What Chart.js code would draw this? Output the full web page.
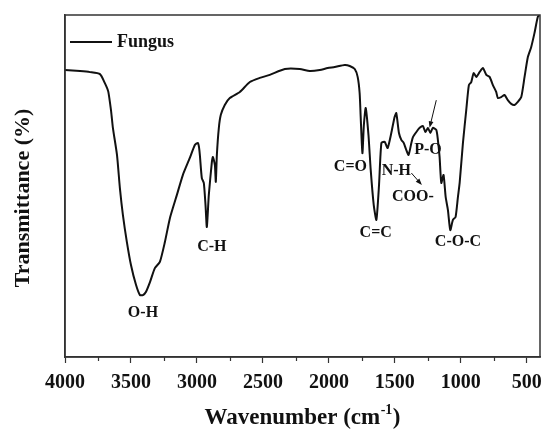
<!DOCTYPE html>
<html><head><meta charset="utf-8">
<script src="https://cdn.jsdelivr.net/npm/chart.js@4/dist/chart.umd.min.js"></script>
<style>html,body{margin:0;padding:0;background:#fff}</style>
</head><body>
<canvas id="c" width="543" height="430" style="display:block;width:543px;height:430px"></canvas>
<script>
const seriesName = 'Fungus';
const wavenumbers = [4000,3886,3810,3735,3697,3672,3650,3637,3606,3584,3561,3531,3500,3462,3432,3409,3387,3356,3319,3281,3243,3205,3152,3107,3054,3016,2993,2985,2978,2963,2948,2935,2925,2910,2887,2879,2864,2857,2849,2834,2819,2789,2751,2675,2599,2524,2448,2334,2221,2145,2069,2009,1956,1880,1842,1804,1782,1767,1759,1746,1735,1721,1700,1683,1660,1640,1620,1602,1577,1555,1527,1502,1489,1469,1451,1433,1413,1396,1375,1363,1337,1312,1287,1269,1249,1231,1212,1186,1174,1161,1148,1131,1115,1098,1080,1060,1040,1022,1009,984,959,939,921,903,883,858,833,807,782,757,732,719,694,669,644,618,593,568,542,517,492,467,442,417,404];
const transmittance = [83.9,83.6,83.3,82.7,80.0,77.6,71.7,67.0,59.1,49.4,41.5,33.6,26.9,21.1,18.1,18.1,19.0,21.9,26.0,27.8,33.6,40.6,47.4,53.2,58.2,62.0,62.6,61.5,59.1,52.3,50.9,44.4,38.0,47.4,57.0,58.5,56.1,51.2,59.1,67.0,70.8,73.7,75.7,77.5,80.4,81.6,82.5,84.2,84.2,83.6,83.9,84.5,84.8,85.4,85.1,84.2,81.9,77.2,70.2,59.6,67.8,72.8,64.9,54.7,44.4,40.1,50.3,62.6,62.9,61.1,65.5,70.2,71.3,65.5,63.5,62.6,60.5,59.1,62.6,64.3,65.8,67.0,67.5,65.8,67.0,65.5,67.0,66.4,63.5,58.5,50.9,53.2,46.8,43.0,37.1,40.1,40.9,46.8,50.9,62.6,72.2,79.5,80.4,83.0,81.9,83.3,84.5,82.5,81.9,79.5,77.5,75.7,76.0,76.6,75.1,74.0,73.7,74.6,76.0,81.9,87.7,90.6,94.7,99.4,100];
const xTickLabels = [4000,3500,3000,2500,2000,1500,1000,500];
const xMinorTicks = [3750,3250,2750,2250,1750,1250,750];
const xTitle = 'Wavenumber (cm';
const xTitleSup = '-1';
const yTitle = 'Transmittance (%)';
const bandNames = ['O-H','C-H','C=O','N-H','P-O','COO-','C=C','C-O-C'];
const bandWavenumber = [3409,2887,1837,1489,1249,1363,1645,1022];
const bandLevel = [12.9,32.3,55.6,54.5,60.5,46.9,36.2,33.7];
// arrows: [fromX, fromY, toX, toY] in data units
const arrows = [[1186,75.1,1237,67.0],[1375,53.8,1295,50.3]];

const SERIF = "'Liberation Serif','Times New Roman',serif";
const INK = '#111';
const FRAME = '#333';

const deco = {
  id: 'deco',
  afterDraw(chart) {
    const {ctx, chartArea: a, scales: {x, y}} = chart;
    ctx.save();
    // frame
    ctx.strokeStyle = FRAME; ctx.lineWidth = 1.5;
    ctx.strokeRect(a.left, a.top, a.right - a.left, a.bottom - a.top);
    // minor ticks
    ctx.lineWidth = 1.2;
    xMinorTicks.forEach(v => {
      const px = Math.round(x.getPixelForValue(v)) + 0.5;
      ctx.beginPath(); ctx.moveTo(px, a.bottom); ctx.lineTo(px, a.bottom + 4); ctx.stroke();
    });
    // legend
    ctx.strokeStyle = INK; ctx.lineWidth = 2;
    ctx.beginPath(); ctx.moveTo(a.left + 5, 42); ctx.lineTo(a.left + 47, 42); ctx.stroke();
    ctx.fillStyle = INK;
    ctx.font = 'bold 18px ' + SERIF;
    ctx.textAlign = 'left'; ctx.textBaseline = 'middle';
    ctx.fillText(chart.data.datasets[0].label, a.left + 52, 42);
    // band labels
    ctx.font = 'bold 16px ' + SERIF;
    ctx.textAlign = 'center'; ctx.textBaseline = 'middle';
    bandNames.forEach((t, i) => {
      ctx.fillText(t, x.getPixelForValue(bandWavenumber[i]), y.getPixelForValue(bandLevel[i]));
    });
    // arrows
    ctx.strokeStyle = INK; ctx.lineWidth = 1;
    arrows.forEach(([fx, fy, tx, ty]) => {
      const x1 = x.getPixelForValue(fx), y1 = y.getPixelForValue(fy);
      const x2 = x.getPixelForValue(tx), y2 = y.getPixelForValue(ty);
      const ang = Math.atan2(y2 - y1, x2 - x1);
      ctx.beginPath(); ctx.moveTo(x1, y1); ctx.lineTo(x2 - 3 * Math.cos(ang), y2 - 3 * Math.sin(ang)); ctx.stroke();
      ctx.beginPath();
      ctx.moveTo(x2, y2);
      ctx.lineTo(x2 - 7 * Math.cos(ang - 0.35), y2 - 7 * Math.sin(ang - 0.35));
      ctx.lineTo(x2 - 7 * Math.cos(ang + 0.35), y2 - 7 * Math.sin(ang + 0.35));
      ctx.closePath(); ctx.fill();
    });
    // x title with superscript
    const cx = (a.left + a.right) / 2;
    ctx.textAlign = 'left'; ctx.textBaseline = 'alphabetic';
    ctx.font = 'bold 23px ' + SERIF;
    const w1 = ctx.measureText(xTitle).width;
    const w3 = ctx.measureText(')').width;
    ctx.font = 'bold 14px ' + SERIF;
    const w2 = ctx.measureText(xTitleSup).width;
    let sx = cx - (w1 + w2 + w3 + 1) / 2;
    const base = 424;
    ctx.font = 'bold 23px ' + SERIF;
    ctx.fillText(xTitle, sx, base);
    ctx.font = 'bold 14px ' + SERIF;
    ctx.fillText(xTitleSup, sx + w1 + 0.5, base - 10);
    ctx.font = 'bold 23px ' + SERIF;
    ctx.fillText(')', sx + w1 + w2 + 1, base);
    // y title
    ctx.translate(23, 198);
    ctx.rotate(-Math.PI / 2);
    ctx.textAlign = 'center'; ctx.textBaseline = 'middle';
    ctx.font = 'bold 22px ' + SERIF;
    ctx.fillText(yTitle, 0, 0);
    ctx.restore();
  }
};

new Chart(document.getElementById('c'), {
  type: 'line',
  data: {
    datasets: [{
      label: seriesName,
      data: wavenumbers.map((w, i) => ({x: w, y: transmittance[i]})),
      borderColor: INK, backgroundColor: INK,
      borderWidth: 2, pointRadius: 0, tension: 0.2, fill: false,
      borderJoinStyle: 'round'
    }]
  },
  options: {
    responsive: false, animation: false, devicePixelRatio: 1,
    layout: {padding: {top: 15, right: 3, left: 0, bottom: 0}},
    plugins: {legend: {display: false}, tooltip: {enabled: false}},
    scales: {
      x: {
        type: 'linear', reverse: true, min: 400, max: 4000,
        afterBuildTicks: s => { s.ticks = xTickLabels.map(v => ({value: v})); },
        ticks: {autoSkip: false, maxRotation: 0, padding: 8, color: INK,
                font: {family: SERIF, size: 20, weight: 'bold'}, callback: v => String(v)},
        grid: {display: true, drawOnChartArea: false, drawTicks: true, tickLength: 6, tickColor: FRAME, tickWidth: 1.2},
        border: {display: true, color: FRAME, width: 1.5},
        afterFit: s => { s.height = 73; s.paddingLeft = 0; s.paddingRight = 0; }
      },
      y: {
        min: 0, max: 100,
        ticks: {display: false},
        grid: {display: false},
        border: {display: true, color: FRAME, width: 1.5},
        afterFit: s => { s.width = 65; }
      }
    }
  },
  plugins: [deco]
});
</script>
</body></html>
